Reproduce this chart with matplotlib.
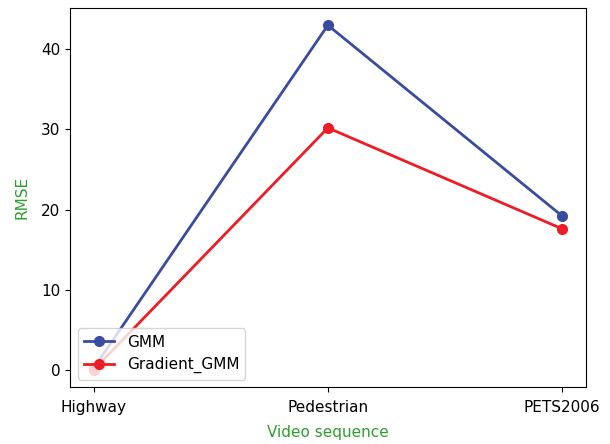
import matplotlib
matplotlib.use("Agg")
import matplotlib.pyplot as plt

categories = ["Highway", "Pedestrian", "PETS2006"]
gmm = [0.2, 43.0, 19.2]
gradient_gmm = [0.0, 30.2, 17.6]

fig = plt.figure(figsize=(6.1, 4.44), dpi=100)
ax = fig.add_axes([0.115, 0.128, 0.845, 0.854])
ax.plot(categories, gmm, marker="o", color="#3a4ca0", linewidth=2, markersize=7, label="GMM")
ax.plot(categories, gradient_gmm, marker="o", color="#ee1c25", linewidth=2, markersize=7, label="Gradient_GMM")
ax.set_xlabel("Video sequence", color="#2ca02c", fontsize=11, labelpad=7)
ax.set_ylabel("RMSE", color="#2ca02c", fontsize=11, labelpad=8)
ax.tick_params(labelsize=11)
ax.tick_params(axis="x", pad=6)
ax.legend(loc="lower left", fontsize=11)
fig.savefig("out.png", dpi=100)
